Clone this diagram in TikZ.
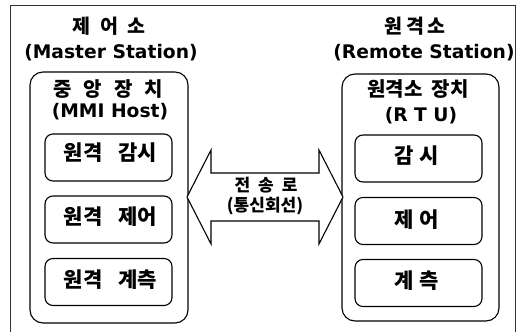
\documentclass[tikz,border=0pt]{standalone}
\usepackage{fontspec}
\newfontfamily\kr{Noto Sans CJK KR}
\newfontfamily\lat{DejaVu Sans}
\begin{document}
\begin{tikzpicture}[x=1pt,y=-1pt,
  titletext/.style={font=\kr\bfseries\fontsize{19.5}{22}\selectfont, inner sep=0pt, anchor=base},
  krtext/.style={font=\kr\bfseries\fontsize{21}{24}\selectfont, inner sep=0pt, anchor=base},
  hosttext/.style={font=\kr\bfseries\fontsize{20}{24}\selectfont, inner sep=0pt, anchor=base},
  lattext/.style={font=\lat\bfseries\fontsize{18.7}{21}\selectfont, inner sep=0pt, anchor=base},
  smalltext/.style={font=\kr\bfseries\fontsize{17}{20}\selectfont, inner sep=0pt, anchor=base},
  station/.style={draw, line width=1.1pt, rounded corners=13pt},
  func/.style={draw, line width=1.1pt, rounded corners=8pt, minimum width=127pt, minimum height=47pt, inner sep=0pt},
  frame/.style={draw, line width=0.8pt, black!80}]
\clip (0,0) rectangle (525,332);
\fill[white] (0,0) rectangle (525,332);
\draw[frame] (10,340) -- (10,5) -- (515,5) -- (515,340);
% master
\node[titletext] (mt) at (109,33.5) {제\hspace{10pt}어\hspace{10pt}소};
\node[lattext] (ms) at (111,58.5) {(Master Station)};
\node[station, minimum width=158pt, minimum height=251pt] (mbox) at (109,197.5) {};
\node[hosttext] (ht) at (108,96.5) {중\hspace{12pt}앙\hspace{12pt}장\hspace{12pt}치};
\node[lattext] (hs) at (110,117.5) {(MMI Host)};
\node[func] (m1) at (108.5,157.5) {};
\node[func] (m2) at (108.5,219.5) {};
\node[func] (m3) at (108.5,282) {};
\node[krtext] (m1t) at (110.5,160) {원격\hspace{16pt}감시};
\node[krtext] (m2t) at (110.5,224) {원격\hspace{16pt}제어};
\node[krtext] (m3t) at (110.5,287) {원격\hspace{16pt}계측};
% remote
\node[titletext] (rt) at (415,33.5) {원\hspace{4pt}격\hspace{4pt}소};
\node[lattext] (rs) at (424,58.5) {(Remote Station)};
\node[station, minimum width=157pt, minimum height=247pt] (rbox) at (420.5,197.5) {};
\node[hosttext] (rh) at (418,96.5) {원격소\hspace{9pt}장치};
\node[lattext] (ru) at (421,121) {(R T U)};
\node[func] (r1) at (418.5,158.5) {};
\node[func] (r2) at (418.5,221) {};
\node[func] (r3) at (418.5,283) {};
\node[krtext] (r1t) at (417,163) {감\hspace{6pt}시};
\node[krtext] (r2t) at (417,227) {제\hspace{6pt}어};
\node[krtext] (r3t) at (417,288) {계\hspace{6pt}측};
% link arrow
\draw[line width=1.1pt, fill=white] (187,197) -- (211,150) -- (211,173) -- (319,173) -- (319,150) -- (343,197) -- (319,244) -- (319,221) -- (211,221) -- (211,244) -- cycle;
\node[smalltext] (lk) at (266,191) {전\hspace{8pt}송\hspace{8pt}로};
\node[smalltext] (lk2) at (265,211) {(통신회선)};
\end{tikzpicture}
\end{document}
